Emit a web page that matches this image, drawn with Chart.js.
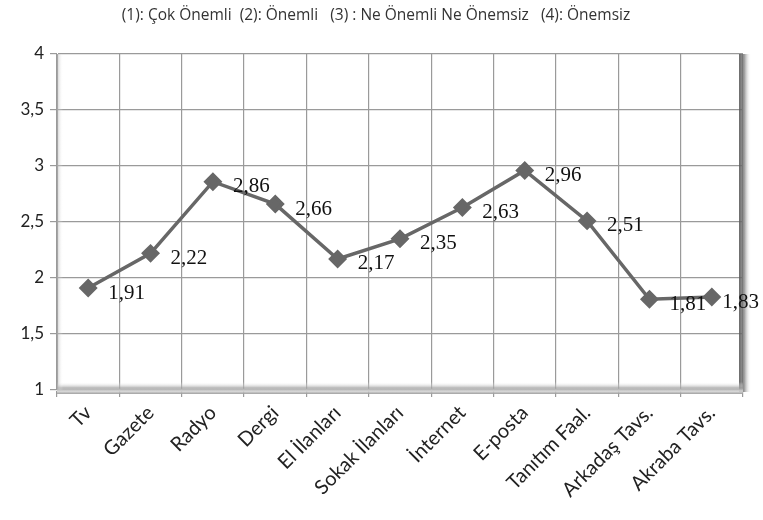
<!DOCTYPE html>
<html>
<head>
<meta charset="utf-8">
<script src="https://cdn.jsdelivr.net/npm/chart.js@4/dist/chart.umd.min.js"></script>
<style>
    html, body { margin: 0; padding: 0; background: #fff; }
    #wrap { width: 763px; height: 520px; }
</style>
</head>
<body>
<div id="wrap"><canvas id="chart"></canvas></div>
<script>
// Categories and mean scores
const categories = ['Tv', 'Gazete', 'Radyo', 'Dergi', 'El İlanları', 'Sokak İlanları',
    'İnternet', 'E-posta', 'Tanıtım Faal.', 'Arkadaş Tavs.', 'Akraba Tavs.'];
const scores = [1.91, 2.22, 2.86, 2.66, 2.17, 2.35, 2.63, 2.96, 2.51, 1.81, 1.83];
const yTicks = [1, 1.5, 2, 2.5, 3, 3.5, 4];
const legendText = '(1): Çok Önemli  (2): Önemli   (3) : Ne Önemli Ne Önemsiz   (4): Önemsiz';

const fmt = v => String(v).replace('.', ',');

// Header line above the plot
const headerPlugin = {
    id: 'header',
    afterDraw(chart) {
        const ctx = chart.ctx;
        ctx.save();
        ctx.font = "15.5px 'Open Sans', sans-serif";
        ctx.fillStyle = '#333';
        ctx.textAlign = 'center';
        ctx.textBaseline = 'middle';
        ctx.fillText(legendText, 376, 16);
        ctx.restore();
    }
};

// Shaded right wall and floor around the plot area
const framePlugin = {
    id: 'frame',
    beforeDatasetsDraw(chart) {
        const { ctx, chartArea: a } = chart;
        ctx.save();
        // right wall shadow
        let g = ctx.createLinearGradient(a.right - 4, 0, a.right + 8, 0);
        g.addColorStop(0, 'rgba(90,90,90,0.9)');
        g.addColorStop(0.45, 'rgba(120,120,120,0.7)');
        g.addColorStop(1, 'rgba(255,255,255,0)');
        ctx.fillStyle = g;
        ctx.fillRect(a.right - 4, a.top, 12, a.bottom - a.top + 2);
        // floor band
        g = ctx.createLinearGradient(0, a.bottom - 8, 0, a.bottom + 4);
        g.addColorStop(0, 'rgba(255,255,255,0)');
        g.addColorStop(0.5, 'rgba(160,160,160,0.8)');
        g.addColorStop(0.75, 'rgba(220,220,220,0.9)');
        g.addColorStop(1, 'rgba(150,150,150,0.9)');
        ctx.fillStyle = g;
        ctx.fillRect(a.left, a.bottom - 8, a.right - a.left, 12);
        // left edge shade
        g = ctx.createLinearGradient(a.left, 0, a.left + 6, 0);
        g.addColorStop(0, 'rgba(170,170,170,0.6)');
        g.addColorStop(1, 'rgba(255,255,255,0)');
        ctx.fillStyle = g;
        ctx.fillRect(a.left, a.top, 6, a.bottom - a.top);
        ctx.restore();
    }
};

// Value labels to the right of each marker, kept inside the canvas
const valueLabels = {
    id: 'valueLabels',
    afterDatasetsDraw(chart) {
        const ctx = chart.ctx;
        const meta = chart.getDatasetMeta(0);
        ctx.save();
        ctx.font = "21px 'Liberation Serif', serif";
        ctx.fillStyle = '#111';
        ctx.textAlign = 'left';
        ctx.textBaseline = 'middle';
        meta.data.forEach((pt, i) => {
            const txt = fmt(scores[i]);
            const w = ctx.measureText(txt).width;
            const x = Math.min(pt.x + 20, chart.width - w - 4);
            ctx.fillText(txt, x, pt.y + 5);
        });
        ctx.restore();
    }
};

new Chart(document.getElementById('chart'), {
    type: 'line',
    data: {
        labels: categories,
        datasets: [{
            data: scores,
            borderColor: '#676767',
            borderWidth: 3.5,
            pointStyle: 'rectRot',
            pointRadius: 7,
            pointBackgroundColor: '#676767',
            pointBorderColor: '#676767',
            tension: 0
        }]
    },
    options: {
        responsive: true,
        maintainAspectRatio: false,
        animation: false,
        layout: { padding: { top: 54, right: 20, left: 0, bottom: 0 } },
        plugins: {
            legend: { display: false },
            tooltip: { enabled: false }
        },
        scales: {
            x: {
                offset: true,
                grid: {
                    offset: true,
                    color: '#9a9a9a',
                    lineWidth: 1.2,
                    tickLength: 7
                },
                border: { color: '#9a9a9a' },
                ticks: {
                    maxRotation: 45,
                    minRotation: 45,
                    color: '#222',
                    padding: 4,
                    font: { family: "Lato, sans-serif", size: 20 }
                },
                afterFit(scale) { scale.height = 130; }
            },
            y: {
                min: 1,
                max: 4,
                afterBuildTicks(scale) {
                    scale.ticks = yTicks.map(v => ({ value: v }));
                },
                grid: {
                    color: '#9a9a9a',
                    lineWidth: 1.2,
                    tickLength: 7
                },
                border: { color: '#9a9a9a' },
                ticks: {
                    color: '#222',
                    padding: 6,
                    callback: v => fmt(v),
                    font: { family: "Lato, sans-serif", size: 17 }
                },
                afterFit(scale) { scale.width = 57; }
            }
        }
    },
    plugins: [headerPlugin, framePlugin, valueLabels]
});
</script>
</body>
</html>
